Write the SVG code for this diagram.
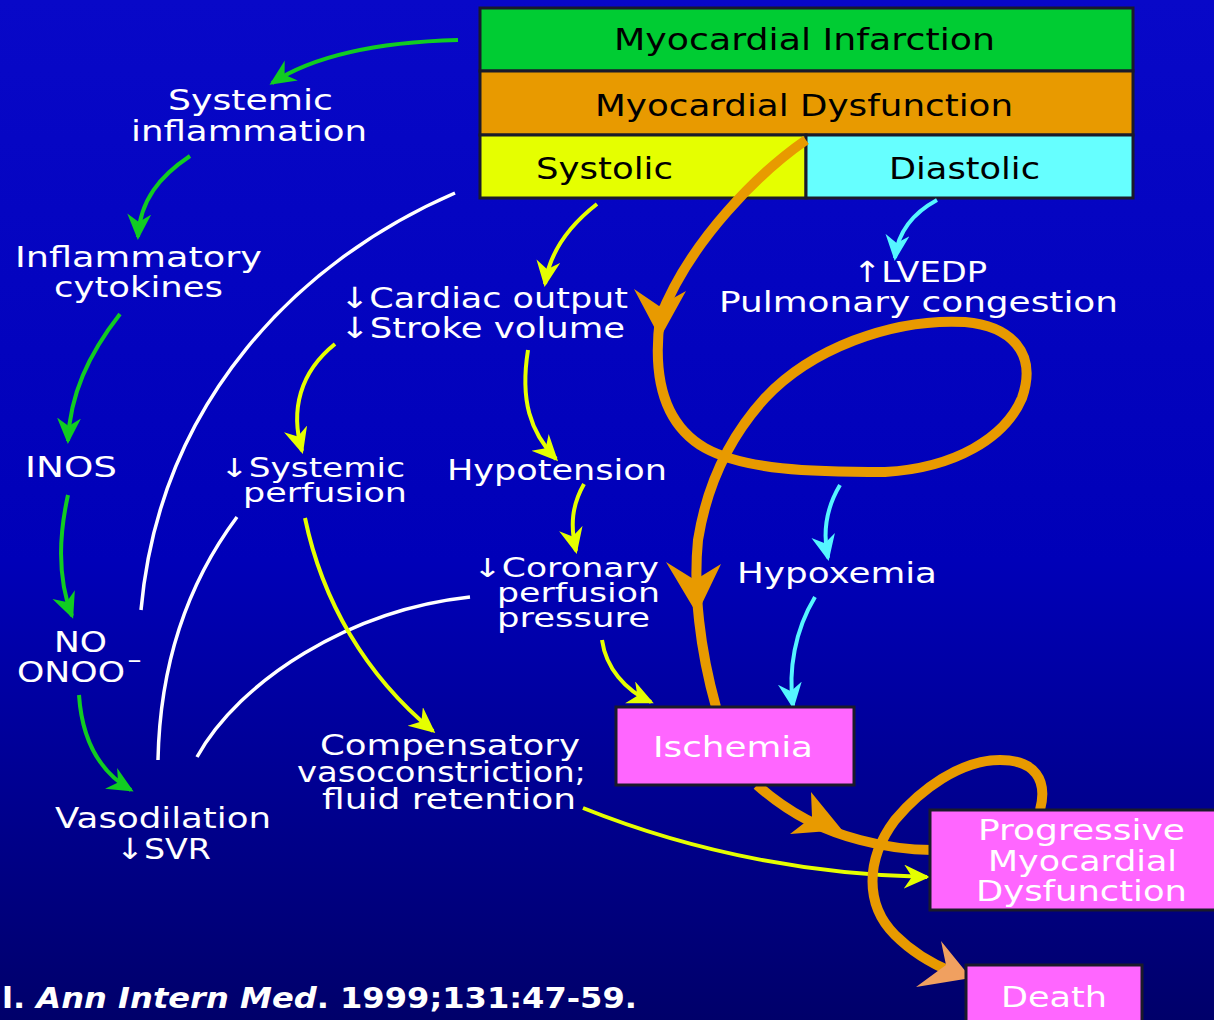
<svg xmlns="http://www.w3.org/2000/svg" width="1214" height="1020" viewBox="0 0 1214 1020">
<defs>
<linearGradient id="bg" x1="0" y1="0" x2="0" y2="1">
<stop offset="0" stop-color="#0808C8"/>
<stop offset="0.55" stop-color="#0000B8"/>
<stop offset="1" stop-color="#00006A"/>
</linearGradient>
<marker id="ag" markerUnits="userSpaceOnUse" markerWidth="28" markerHeight="26" refX="23" refY="12" orient="auto"><path d="M0,0 L26,12 L0,24 L8,12 z" fill="#11CC22"/></marker>
<marker id="ay" markerUnits="userSpaceOnUse" markerWidth="28" markerHeight="26" refX="23" refY="12" orient="auto"><path d="M0,0 L26,12 L0,24 L8,12 z" fill="#E5FF00"/></marker>
<marker id="ac" markerUnits="userSpaceOnUse" markerWidth="28" markerHeight="26" refX="23" refY="12" orient="auto"><path d="M0,0 L26,12 L0,24 L8,12 z" fill="#55F5FF"/></marker>
</defs>
<style>
.t{font-family:"DejaVu Sans",Verdana,sans-serif;font-size:29px;fill:#FFFFFF}
.s{font-size:26px}
.b{font-family:"DejaVu Sans",Verdana,sans-serif;font-size:30px;fill:#000000}
.box{stroke:#1a1a2a;stroke-width:3}
.g{fill:none;stroke:#11CC22;stroke-width:4;marker-end:url(#ag)}
.y{fill:none;stroke:#E5FF00;stroke-width:4;marker-end:url(#ay)}
.c{fill:none;stroke:#55F5FF;stroke-width:4;marker-end:url(#ac)}
.w{fill:none;stroke:#FFFFFF;stroke-width:3.5}
.o{fill:none;stroke:#E89A00;stroke-width:10;stroke-linecap:butt}
.oh{fill:#E89A00}
.cite{font-family:"DejaVu Sans",Verdana,sans-serif;font-size:28px;font-weight:bold;fill:#FFFFFF}
</style>
<rect x="0" y="0" width="1214" height="1020" fill="url(#bg)"/>

<g id="node-infarction">
<rect class="box" x="480" y="8" width="653" height="63" fill="#00CC33"/>
<text class="b" x="614" y="50" textLength="381" lengthAdjust="spacingAndGlyphs">Myocardial Infarction</text>
</g>
<g id="node-dysfunction">
<rect class="box" x="480" y="71" width="653" height="64" fill="#E89A00"/>
<text class="b" x="595" y="116" textLength="418" lengthAdjust="spacingAndGlyphs">Myocardial Dysfunction</text>
</g>
<g id="node-systolic">
<rect class="box" x="480" y="135" width="326" height="63" fill="#E5FF00"/>
<text class="b" x="536" y="179" textLength="137" lengthAdjust="spacingAndGlyphs">Systolic</text>
</g>
<g id="node-diastolic">
<rect class="box" x="806" y="135" width="327" height="63" fill="#66FFFF"/>
<text class="b" x="889" y="179" textLength="151" lengthAdjust="spacingAndGlyphs">Diastolic</text>
</g>

<g id="connectors">
<!-- green -->
<path class="g" d="M458,40 C380,42 315,55 272,83"/>
<path class="g" d="M190,156 C160,176 140,200 138,237"/>
<path class="g" d="M120,314 C88,355 70,395 68,441"/>
<path class="g" d="M68,495 C58,540 58,580 72,616"/>
<path class="g" d="M79,695 C82,740 100,772 131,790"/>
<!-- white -->
<path class="w" d="M455,193 C300,260 160,400 141,610"/>
<path class="w" d="M237,517 C190,580 160,660 158,760"/>
<path class="w" d="M470,597 C350,610 240,680 197,757"/>
<!-- yellow -->
<path class="y" d="M597,204 C570,225 550,250 545,284"/>
<path class="y" d="M335,344 C300,372 290,410 302,451"/>
<path class="y" d="M528,350 C520,400 530,432 556,459"/>
<path class="y" d="M584,484 C572,505 570,525 576,551"/>
<path class="y" d="M602,640 C606,668 625,690 651,702"/>
<path class="y" d="M305,518 C322,600 365,675 433,731"/>
<path class="y" d="M583,808 C700,855 820,875 927,877"/>
<!-- cyan -->
<path class="c" d="M937,200 C915,212 898,230 895,258"/>
<path class="c" d="M840,485 C828,505 822,530 828,558"/>
<path class="c" d="M815,597 C795,630 788,670 793,706"/>
<!-- orange -->
<path class="o" d="M806,140 C760,172 690,240 660,318 C652,380 665,425 705,448 C745,470 810,472 885,472 C955,468 1005,438 1022,398 C1038,352 1010,326 965,322 C890,318 810,350 765,398 C725,442 706,490 698,540 C693,590 700,650 716,707"/>
<polygon class="oh" points="634,289 659,306 686,291 660,338"/>
<polygon class="oh" points="666,562 695,580 721,564 697,614"/>
<path class="o" d="M757,785 C785,810 820,830 860,840 C890,848 910,850 932,850"/>
<polygon class="oh" points="811,792 812,817 790,834 842,830"/>
<path class="o" d="M1040,810 C1048,780 1035,760 1000,760 C960,760 920,790 895,820 C865,860 865,905 895,935 C915,955 935,965 952,972"/>
<polygon points="941,941 946,965 916,987 971,978" fill="#F0A060"/>
</g>

<g id="node-systemic-inflammation">
<text class="t" x="168" y="110" textLength="165" lengthAdjust="spacingAndGlyphs">Systemic</text>
<text class="t" x="131" y="141" textLength="236" lengthAdjust="spacingAndGlyphs">inflammation</text>
</g>
<g id="node-cytokines">
<text class="t" x="15" y="267" textLength="247" lengthAdjust="spacingAndGlyphs">Inflammatory</text>
<text class="t" x="54" y="297" textLength="169" lengthAdjust="spacingAndGlyphs">cytokines</text>
</g>
<g id="node-inos">
<text class="t" x="25" y="477" textLength="92" lengthAdjust="spacingAndGlyphs">INOS</text>
</g>
<g id="node-no">
<text class="t" x="54" y="652" textLength="53" lengthAdjust="spacingAndGlyphs">NO</text>
<text class="t" x="17" y="682" textLength="108" lengthAdjust="spacingAndGlyphs">ONOO</text>
<text class="t" x="127" y="668" style="font-size:22px" textLength="15" lengthAdjust="spacingAndGlyphs">−</text>
</g>
<g id="node-vasodilation">
<text class="t" x="55" y="828" textLength="216" lengthAdjust="spacingAndGlyphs">Vasodilation</text>
<text class="t" x="116" y="859" textLength="95" lengthAdjust="spacingAndGlyphs">↓SVR</text>
</g>
<g id="node-cardiac-output">
<text class="t" x="340" y="308" textLength="288" lengthAdjust="spacingAndGlyphs">↓Cardiac output</text>
<text class="t" x="340" y="338" textLength="285" lengthAdjust="spacingAndGlyphs">↓Stroke volume</text>
</g>
<g id="node-systemic-perfusion">
<text class="t s" x="220" y="477" textLength="185" lengthAdjust="spacingAndGlyphs">↓Systemic</text>
<text class="t s" x="243" y="502" textLength="164" lengthAdjust="spacingAndGlyphs">perfusion</text>
</g>
<g id="node-hypotension">
<text class="t" x="447" y="480" textLength="220" lengthAdjust="spacingAndGlyphs">Hypotension</text>
</g>
<g id="node-coronary">
<text class="t s" x="473" y="577" textLength="186" lengthAdjust="spacingAndGlyphs">↓Coronary</text>
<text class="t s" x="497" y="602" textLength="163" lengthAdjust="spacingAndGlyphs">perfusion</text>
<text class="t s" x="497" y="627" textLength="153" lengthAdjust="spacingAndGlyphs">pressure</text>
</g>
<g id="node-compensatory">
<text class="t" x="320" y="755" textLength="260" lengthAdjust="spacingAndGlyphs">Compensatory</text>
<text class="t" x="297" y="782" textLength="289" lengthAdjust="spacingAndGlyphs">vasoconstriction;</text>
<text class="t" x="322" y="809" textLength="254" lengthAdjust="spacingAndGlyphs">fluid retention</text>
</g>
<g id="node-lvedp">
<text class="t" x="853" y="282" textLength="134" lengthAdjust="spacingAndGlyphs">↑LVEDP</text>
<text class="t" x="719" y="312" textLength="399" lengthAdjust="spacingAndGlyphs">Pulmonary congestion</text>
</g>
<g id="node-hypoxemia">
<text class="t" x="737" y="583" textLength="200" lengthAdjust="spacingAndGlyphs">Hypoxemia</text>
</g>
<g id="node-ischemia">
<rect class="box" x="616" y="707" width="238" height="78" fill="#FF66FF"/>
<text class="t" x="653" y="757" textLength="160" lengthAdjust="spacingAndGlyphs">Ischemia</text>
</g>
<g id="node-progressive">
<rect class="box" x="930" y="810" width="290" height="100" fill="#FF66FF"/>
<text class="t" x="978" y="840" textLength="207" lengthAdjust="spacingAndGlyphs">Progressive</text>
<text class="t" x="988" y="871" textLength="189" lengthAdjust="spacingAndGlyphs">Myocardial</text>
<text class="t" x="976" y="901" textLength="211" lengthAdjust="spacingAndGlyphs">Dysfunction</text>
</g>
<g id="node-death">
<rect class="box" x="966" y="965" width="176" height="70" fill="#FF66FF"/>
<text class="t" x="1001" y="1007" textLength="106" lengthAdjust="spacingAndGlyphs">Death</text>
</g>
<g id="citation">
<text class="cite" x="2" y="1008" textLength="635" lengthAdjust="spacingAndGlyphs">l. <tspan font-style="italic">Ann Intern Med</tspan>. 1999;131:47-59.</text>
</g>
</svg>
